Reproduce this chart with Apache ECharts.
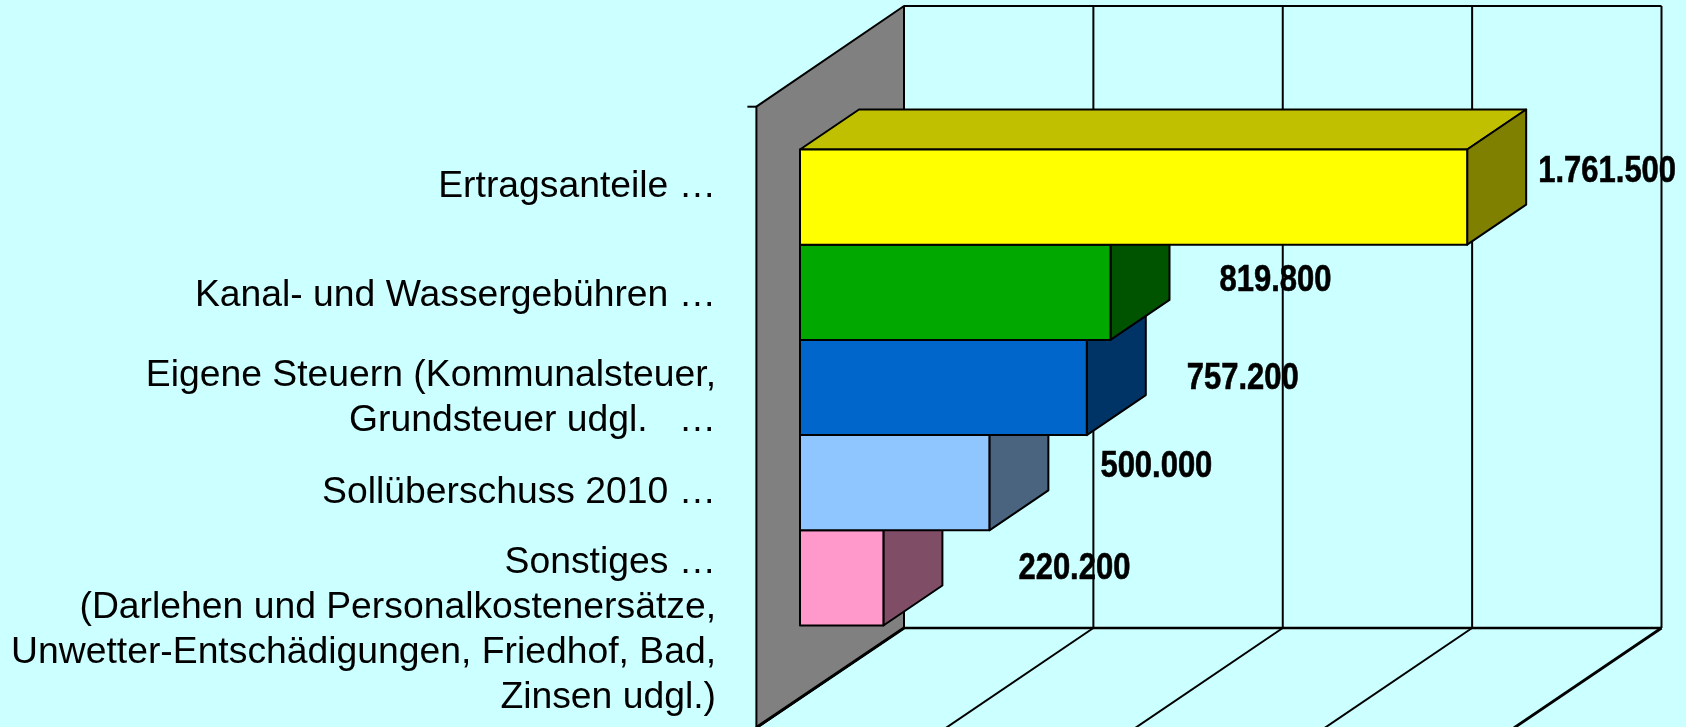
<!DOCTYPE html>
<html>
<head>
<meta charset="utf-8">
<style>html,body{margin:0;padding:0;background:#CCFFFF}#c{width:1686px;height:727px}</style>
<script src="https://cdn.jsdelivr.net/npm/echarts@6/dist/echarts.min.js"></script>
</head>
<body>
<div id="c"></div>
<script>
// Data
const categories = [
  'Ertragsanteile …',
  'Kanal- und Wassergebühren …',
  'Eigene Steuern (Kommunalsteuer,\nGrundsteuer udgl.   …',
  'Sollüberschuss 2010 …',
  'Sonstiges …\n(Darlehen und Personalkostenersätze,\nUnwetter-Entschädigungen, Friedhof, Bad,\nZinsen udgl.)'
];
const values = [1761500, 819800, 757200, 500000, 220200];
const gridValues = [0, 500000, 1000000, 1500000, 2000000];

// Styles
const frontColors = ['#FFFF00', '#00A800', '#0066CC', '#8FC6FF', '#FF99CC'];
const topColors = ['#C0C000', '#008000', '#004C99', '#6B94BF', '#BF7399'];
const sideColors = ['#808000', '#005400', '#003366', '#4A6480', '#804D66'];

// Layout
const G = { left: 800, top: 149.5, width: 757.5, height: 476 };
const BAR_DX = 59, BAR_DY = 40;
const BACK_DX = 104, BACK_TOP = 6, BACK_BOTTOM = 628;
const WALL_DX = 147.6, WALL_DY = 100, CANVAS_BOTTOM = 727.5;
const labelOffsetX = [140, 165, 156, 167, 191];
const labelY = [172, 280.6, 379.2, 466.7, 568.9];
const catLabelY = [187.2, 295.7, 397.8, 492.4, 630.5];
const CAT_RIGHT_GAP = 84;
const FONT = '"Liberation Sans", Arial, sans-serif';
const LINE = '#000000';

function fmt(v) { return String(v).replace(/\B(?=(\d{3})+$)/g, '.'); }

const poly = (points, fill, z2, lw) => ({
  type: 'polygon', z2,
  shape: { points },
  style: { fill, stroke: LINE, lineWidth: lw || 2, lineJoin: 'round' }
});
const seg = (x1, y1, x2, y2, lw, z2) => ({
  type: 'line', z2,
  shape: { x1, y1, x2, y2 },
  style: { stroke: LINE, lineWidth: lw, fill: null }
});

const option = {
  backgroundColor: '#CCFFFF',
  animation: false,
  grid: { left: G.left, top: G.top, width: G.width, height: G.height, containLabel: false },
  xAxis: {
    type: 'value', min: 0, max: 2000000, interval: 500000,
    axisLabel: { show: false }, axisLine: { show: false }, axisTick: { show: false }, splitLine: { show: false }
  },
  yAxis: {
    type: 'category', inverse: true, data: categories,
    axisLine: { show: false }, axisTick: { show: false }, splitLine: { show: false },
    axisLabel: { show: false }
  },
  series: [
    { // back wall gridlines and floor lines
      type: 'custom', coordinateSystem: 'cartesian2d', z: 1, silent: true, clip: false,
      data: gridValues.map(v => [v, 0]),
      renderItem(params, api) {
        const v = api.value(0);
        const x = api.coord([v, 0])[0] + BACK_DX;
        const isEnd = v === gridValues[gridValues.length - 1];
        const children = [
          seg(x, BACK_TOP, x, BACK_BOTTOM, 2),
          seg(x, BACK_BOTTOM, x - WALL_DX, BACK_BOTTOM + WALL_DY, isEnd ? 2.8 : 2)
        ];
        if (v === 0) {
          const xe = api.coord([gridValues[gridValues.length - 1], 0])[0] + BACK_DX;
          children.push(seg(x, BACK_TOP, xe, BACK_TOP, 2));
          children.push(seg(x, BACK_BOTTOM, xe, BACK_BOTTOM, 2.4));
        }
        return { type: 'group', children };
      }
    },
    { // grey side wall
      type: 'custom', coordinateSystem: 'cartesian2d', z: 2, silent: true, clip: false,
      data: [[0, 0]],
      renderItem(params, api) {
        const xb = api.coord([0, 0])[0] + BACK_DX, xf = xb - WALL_DX;
        return {
          type: 'group',
          children: [
            poly([[xf, BACK_TOP + WALL_DY + 0.7], [xb, BACK_TOP], [xb, BACK_BOTTOM], [xf, CANVAS_BOTTOM]], '#808080', 1, 2),
            seg(xb, BACK_BOTTOM, xf, CANVAS_BOTTOM, 3, 2),
            seg(xf - 9, BACK_TOP + WALL_DY + 0.7, xf, BACK_TOP + WALL_DY + 0.7, 2, 2)
          ]
        };
      }
    },
    { // 3D bars
      type: 'custom', coordinateSystem: 'cartesian2d', z: 3, silent: true, clip: false,
      encode: { x: 0, y: 1 },
      data: values.map((v, i) => [v, i]),
      renderItem(params, api) {
        const i = api.value(1);
        const c = api.coord([api.value(0), i]);
        const x0 = api.coord([0, i])[0];
        const band = api.size([0, 1])[1];
        const t = c[1] - band / 2, b = c[1] + band / 2, r = c[0];
        const z = (10 - i) * 10;
        return {
          type: 'group',
          children: [
            poly([[x0, t], [x0 + BAR_DX, t - BAR_DY], [r + BAR_DX, t - BAR_DY], [r, t]], topColors[i], z),
            poly([[r, t], [r + BAR_DX, t - BAR_DY], [r + BAR_DX, b - BAR_DY], [r, b]], sideColors[i], z),
            poly([[x0, t], [r, t], [r, b], [x0, b]], frontColors[i], z + 1)
          ]
        };
      }
    },
    { // category labels
      type: 'custom', coordinateSystem: 'cartesian2d', z: 4, silent: true, clip: false,
      data: categories.map((c, i) => [0, i]),
      renderItem(params, api) {
        const i = api.value(1);
        return {
          type: 'text',
          x: api.coord([0, i])[0] - CAT_RIGHT_GAP,
          y: catLabelY[i],
          style: {
            text: categories[i], fill: '#000',
            font: '37.3px ' + FONT, lineHeight: 45,
            align: 'right', verticalAlign: 'middle'
          }
        };
      }
    },
    { // value labels
      type: 'custom', coordinateSystem: 'cartesian2d', z: 4, silent: true, clip: false,
      data: values.map((v, i) => [v, i]),
      renderItem(params, api) {
        const i = api.value(1), v = api.value(0);
        return {
          type: 'text',
          x: api.coord([v, i])[0] + labelOffsetX[i],
          y: labelY[i],
          scaleX: 0.86,
          style: {
            text: fmt(v), fill: '#000', stroke: '#000', lineWidth: 0.6,
            font: 'bold 36px ' + FONT,
            align: 'center', verticalAlign: 'middle'
          }
        };
      }
    }
  ]
};
echarts.init(document.getElementById('c'), null, { renderer: 'canvas' }).setOption(option);
</script>
</body>
</html>
